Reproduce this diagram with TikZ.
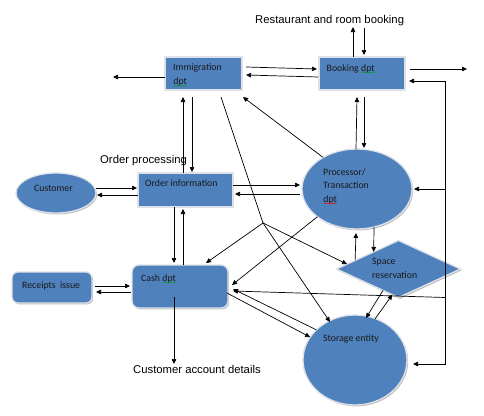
\documentclass[tikz,border=0pt]{standalone}
\usepackage{fontspec}
\setmainfont{Liberation Sans}
\newfontfamily\carl{Carlito}
\usetikzlibrary{arrows.meta,shapes.geometric,shadows,calc,decorations.pathmorphing}
\definecolor{boxblue}{RGB}{79,129,189}
\definecolor{rimgray}{RGB}{222,226,232}
\newcommand{\sqword}[2]{\tikz[baseline=(sqw.base)]{\node[inner sep=0pt,outer sep=0pt](sqw){#2};\draw[#1,line width=0.35pt,decorate,decoration={snake,amplitude=0.45pt,segment length=2pt}]([yshift=-1.3pt]sqw.base west)--([yshift=-1.3pt]sqw.base east);}}
\begin{document}
\begin{tikzpicture}[x=1pt,y=-1pt,
  shp/.style={fill=boxblue,draw=rimgray,line width=1.3pt,drop shadow={shadow xshift=1.2pt,shadow yshift=-1.4pt,fill=black,opacity=0.25},inner sep=0pt,outer sep=0pt},
  arr/.style={-{Triangle[length=5pt,width=4.5pt]},line width=0.7pt},
  arrtwo/.style={{Triangle[length=5pt,width=4.5pt]}-{Triangle[length=5pt,width=4.5pt]},line width=0.7pt},
  ln/.style={line width=0.7pt},
  intxt/.style={font=\carl\fontsize{9.8}{13.5}\selectfont,inner sep=0pt,align=left,text=black!90},
  lbl/.style={font=\fontsize{11.3}{13}\selectfont,inner sep=0pt}]
\useasboundingbox[fill=white] (0,0) rectangle (484,415);

% shapes
\node[shp,rectangle,minimum width=77pt,minimum height=33pt] (imm) at (203.5,73.5) {};
\node[shp,rectangle,minimum width=86pt,minimum height=33pt] (book) at (362,73.5) {};
\node[shp,rectangle,minimum width=95pt,minimum height=34pt] (ord) at (185.5,190) {};
\node[shp,ellipse,minimum width=80pt,minimum height=40pt] (cust) at (56,193) {};
\node[shp,ellipse,minimum width=110pt,minimum height=80pt] (proc) at (357,189) {};
\node[shp,diamond,minimum width=124pt,minimum height=57pt] (space) at (398.5,269) {};
\node[shp,ellipse,minimum width=104pt,minimum height=90pt] (store) at (355,360) {};
\node[shp,rectangle,rounded corners=7pt,minimum width=96pt,minimum height=43pt] (cash) at (180,286.5) {};
\node[shp,rectangle,rounded corners=6pt,minimum width=80pt,minimum height=31pt] (rec) at (52,287.5) {};

% texts inside shapes
\node[intxt,anchor=north west] (immT) at (173,64) {Immigration\\\sqword{green!60!black}{dpt}};
\node[intxt,anchor=base west] (bookT) at (326.5,71) {Booking \sqword{green!60!black}{dpt}};
\node[intxt,anchor=base west] (ordT) at (145,186.5) {Order information};
\node[intxt,anchor=base west] (custT) at (34,191) {Customer};
\node[intxt,anchor=north west] (procT) at (323,168) {Processor/\\Transaction\\\sqword{red}{dpt}};
\node[intxt,anchor=north west] (spaceT) at (372,258) {Space\\reservation};
\node[intxt,anchor=base west] (storeT) at (323,341) {Storage entity};
\node[intxt,anchor=base west] (cashT) at (141,281) {Cash \sqword{green!60!black}{dpt}};
\node[intxt,anchor=base west] (recT) at (22,288) {Receipts\ \ issue};

% free labels
\node[lbl,anchor=base west] (rest) at (255,23) {Restaurant and room booking};
\node[lbl,anchor=base west] (oproc) at (100,163) {Order processing};
\node[lbl,anchor=base west] (cad) at (133,373) {Customer account details};

% free ends and junctions
\coordinate (rtA) at (353,27);
\coordinate (rtB) at (364,28);
\coordinate (Lend) at (113,77);
\coordinate (Rend) at (467,69);
\coordinate (V1) at (445,81);
\coordinate (V2) at (445,364);
\coordinate (J) at (263,223);
\coordinate (cadA) at (174,364);

% booking <-> restaurant
\draw[arr] ([xshift=-9pt]book.north) -- (rtA);
\draw[arr] (rtB) -- ([xshift=2pt,yshift=2pt]book.north);
% outward arrows
\draw[arr] ([yshift=-3.5pt]imm.west) -- (Lend);
\draw[arr] ([xshift=5pt,yshift=4.5pt]book.east) -- (Rend);
% immigration <-> booking
\draw[arr] ([xshift=4pt,yshift=6.5pt]imm.east) -- ([xshift=-2pt,yshift=4.5pt]book.west);
\draw[arr] ([xshift=-1pt,yshift=-3.5pt]book.west) -- ([xshift=4pt,yshift=-1.5pt]imm.east);
% right loop
\draw[arrtwo] ([xshift=4pt,yshift=-7.5pt]book.east) -- (V1) -- (V2) -- ([xshift=6pt,yshift=-4pt]store.east);
\draw[arr] (proc.east -| V1) -- ([xshift=2pt]proc.east);
\draw[arr] (V1 |- space.south) -- ([xshift=5pt,yshift=-4.5pt]cash.east);
% immigration <-> order
\draw[arr] ([xshift=-2.5pt]ord.north) -- ([xshift=-20.5pt,yshift=-7pt]imm.south);
\draw[arr] ([xshift=-11.5pt,yshift=-7pt]imm.south) -- ([xshift=6.5pt,yshift=1pt]ord.north);
% customer <-> order
\draw[arr] ([yshift=5pt]cust.east) -- ([xshift=-1pt,yshift=2pt]ord.west);
\draw[arr] ([yshift=-5pt]ord.west) -- ([xshift=1pt,yshift=-2pt]cust.east);
% order <-> processor
\draw[arr] ([yshift=5pt]ord.east) -- ([xshift=-2pt,yshift=4pt]proc.west);
\draw[arr] ([xshift=-2pt,yshift=-5pt]proc.west) -- ([xshift=2pt,yshift=-4pt]ord.east);
% booking <-> processor
\draw[arr] ([xshift=-1pt]proc.north) -- ([xshift=-5pt,yshift=-7pt]book.south);
\draw[arr] ([xshift=2pt,yshift=-7pt]book.south) -- ([xshift=7pt,yshift=1pt]proc.north);
% processor -> immigration
\draw[arr] (proc.137) -- ([xshift=1pt,yshift=-7pt]imm.south east);
% processor <-> space
\draw[arr] ($(space.west)!0.3!(space.north)$) -- ([xshift=-1pt,yshift=-4pt]proc.south);
\draw[arr] ([xshift=17pt,yshift=2pt]proc.south) -- ($(space.west)!0.6!(space.north)$);
% space <-> storage
\draw[arr] ($(space.south)!0.25!(space.west)$) -- ([xshift=11pt,yshift=-3pt]store.north);
\draw[arr] ([xshift=20pt,yshift=-4pt]store.north) -- ($(space.south)!0.1!(space.west)$);
% immigration line through junction
\draw[ln] ([xshift=17.5pt,yshift=-7pt]imm.south) -- (J);
\draw[arr] (J) -- ([xshift=26pt,yshift=2pt]cash.north);
\draw[arr] (J) -- ($(space.west)!0.17!(space.north)$);
\draw[arr] (J) -- ([xshift=-25pt,yshift=-7pt]store.north);
% processor / storage <-> cash
\draw[arr] (proc.215) -- ([xshift=4pt,yshift=1.5pt]cash.east);
\draw[arr] (store.142) -- ([xshift=5pt,yshift=-2.5pt]cash.east);
\draw[arr] ([xshift=-1pt,yshift=-6.5pt]cash.east) -- (store.153);
% receipts <-> cash
\draw[arr] ([xshift=3pt,yshift=1.5pt]rec.east) -- ([xshift=-2pt,yshift=0.5pt]cash.west);
\draw[arr] ([xshift=-1pt,yshift=-5.5pt]cash.west) -- ([xshift=4pt,yshift=-4.5pt]rec.east);
% order <-> cash
\draw[arr] ([xshift=-11.5pt]ord.south) -- ([xshift=-6pt,yshift=2pt]cash.north);
\draw[arr] ([xshift=3pt]cash.north) -- ([xshift=-2.5pt,yshift=-2pt]ord.south);
% cash -> customer account details
\draw[arr] ([xshift=-6pt,yshift=-10.5pt]cash.center) -- (cadA);
\end{tikzpicture}
\end{document}
